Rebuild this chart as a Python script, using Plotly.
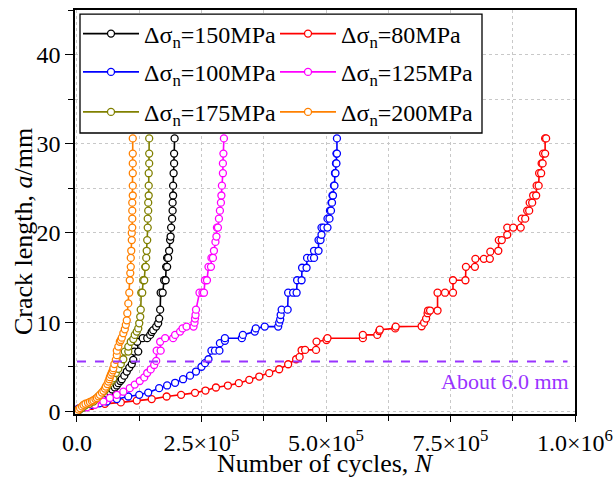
import numpy as np
import plotly.graph_objects as go

# ---- data (N in thousands of cycles, a in mm) ----
N_150 = [0, 5, 15, 26, 35, 43, 50, 56, 61, 66, 71, 76, 80, 83, 87, 90, 95, 100, 105, 110, 113, 115, 123, 121, 132, 141, 147, 150, 153, 159, 163, 165, 167, 168, 172, 175, 178, 179, 181, 181, 183, 185, 187, 188, 189, 191, 192, 192, 193, 193, 194, 195, 195, 196]
a_150 = [0, 0.2, 0.45, 0.8, 1.05, 1.3, 1.5, 1.73, 1.95, 2.2, 2.45, 2.67, 2.9, 3.16, 3.4, 3.6, 4.0, 4.46, 4.9, 5.3, 5.77, 6.7, 6.7, 7.8, 8.2, 8.2, 8.57, 8.9, 9.1, 9.5, 9.87, 10.4, 11.4, 13.3, 13.3, 14.7, 14.7, 16.2, 16.2, 17.2, 17.2, 18.0, 19.2, 19.6, 20.6, 21.6, 22.5, 23.4, 24.2, 25.3, 26.7, 27.8, 28.9, 30.6]

N_80 = [0, 3, 29, 56, 88, 120, 150, 180, 209, 237, 258, 279, 303, 325, 346, 366, 386, 406, 424, 440, 447, 451, 458, 480, 481, 501, 503, 574, 574, 603, 607, 608, 639, 640, 692, 697, 701, 704, 705, 709, 724, 724, 739, 755, 755, 780, 781, 799, 800, 817, 829, 830, 846, 847, 853, 864, 864, 876, 891, 893, 900, 904, 908, 909, 914, 916, 922, 923, 927, 928, 932, 933, 935, 936, 940, 940, 942]
a_80 = [0, 0.3, 0.6, 0.84, 1.0, 1.2, 1.37, 1.66, 1.85, 2.07, 2.33, 2.67, 2.89, 3.16, 3.53, 3.9, 4.28, 4.72, 5.28, 5.84, 6.1, 6.85, 6.89, 6.89, 7.82, 8.0, 8.2, 8.2, 8.57, 8.57, 9.0, 9.15, 9.3, 9.5, 9.54, 9.94, 10.4, 11.0, 11.3, 11.3, 11.3, 13.3, 13.3, 13.3, 14.7, 14.7, 16.2, 16.2, 17.1, 17.1, 17.1, 17.9, 18.0, 19.2, 19.2, 19.8, 20.6, 20.6, 20.6, 21.6, 21.6, 22.5, 22.5, 23.4, 23.4, 24.2, 24.2, 25.3, 25.3, 26.7, 26.7, 27.8, 27.8, 28.9, 28.9, 30.6, 30.6]

N_100 = [0, 3, 15, 29, 45, 60, 80, 103, 125, 143, 165, 181, 197, 213, 227, 239, 250, 257, 264, 270, 277, 286, 287, 297, 297, 331, 333, 357, 359, 377, 404, 406, 408, 409, 411, 423, 424, 434, 441, 442, 451, 452, 461, 462, 470, 476, 476, 485, 485, 489, 491, 491, 495, 503, 503, 507, 508, 510, 511, 512, 513, 514, 516, 517, 518, 519, 520, 521, 521, 522, 522]
a_100 = [0, 0.3, 0.5, 0.73, 0.9, 1.1, 1.37, 1.66, 1.85, 2.1, 2.6, 2.9, 3.2, 3.6, 4.0, 4.46, 5.0, 5.4, 5.84, 6.8, 6.8, 6.8, 7.64, 7.9, 8.2, 8.2, 8.57, 8.94, 9.3, 9.5, 9.5, 9.94, 10.3, 10.8, 11.4, 11.4, 13.3, 13.3, 13.3, 14.7, 14.7, 16.1, 16.1, 17.2, 17.2, 17.2, 18.0, 18.0, 19.2, 19.2, 19.8, 20.6, 20.6, 20.6, 21.6, 21.6, 22.5, 22.5, 23.4, 23.4, 24.2, 24.2, 25.3, 25.3, 26.7, 26.7, 27.8, 27.8, 28.9, 28.9, 30.6]

N_125 = [0, 5, 20, 36, 53, 66, 80, 93, 106, 116, 126, 135, 141, 148, 155, 159, 160, 168, 167, 177, 193, 197, 207, 212, 220, 234, 236, 237, 238, 239, 246, 252, 255, 257, 261, 264, 269, 270, 273, 275, 278, 280, 281, 283, 285, 287, 289, 290, 291, 293, 293, 294, 295]
a_125 = [0, 0.25, 0.45, 0.73, 1.1, 1.5, 1.85, 2.2, 2.6, 3.0, 3.4, 3.8, 4.3, 4.7, 5.2, 5.65, 6.8, 6.8, 7.8, 8.2, 8.2, 8.57, 8.94, 9.3, 9.5, 9.5, 9.94, 10.4, 10.8, 11.4, 13.3, 13.3, 13.3, 14.7, 14.7, 16.2, 16.2, 17.2, 17.2, 18.0, 19.0, 19.6, 20.6, 20.6, 21.6, 22.5, 23.4, 24.2, 25.3, 26.7, 27.8, 28.9, 30.6]

N_175 = [0, 5, 10, 16, 25, 33, 38, 43, 48, 53, 57, 60, 63, 66, 70, 73, 78, 83, 88, 93, 96, 103, 103, 108, 113, 116, 120, 123, 125, 127, 128, 129, 131, 133, 135, 137, 138, 139, 140, 141, 142, 142, 143, 143, 144, 144, 144, 145, 145, 145]
a_175 = [0, 0.2, 0.4, 0.65, 0.85, 1.1, 1.4, 1.66, 1.95, 2.2, 2.45, 2.7, 2.95, 3.16, 3.45, 3.7, 4.3, 4.76, 5.3, 5.84, 6.7, 6.7, 7.26, 7.8, 8.1, 8.57, 8.94, 9.3, 9.87, 10.6, 11.4, 13.3, 13.3, 14.7, 14.7, 16.2, 16.2, 17.2, 18.0, 19.2, 20.6, 21.6, 22.5, 23.4, 24.2, 25.3, 26.7, 27.8, 28.9, 30.6]

N_200 = [0, 3, 6, 10, 13, 17, 22, 26, 30, 33, 37, 40, 43, 46, 50, 53, 56, 58, 61, 63, 65, 66, 68, 70, 72, 73, 75, 78, 80, 80, 83, 86, 88, 90, 93, 96, 98, 100, 101, 103, 105, 106, 107, 108, 108, 109, 110, 110, 111, 111, 111, 111, 112, 112, 112, 112, 112, 112]
a_200 = [0, 0.2, 0.36, 0.55, 0.73, 0.85, 0.95, 1.05, 1.15, 1.25, 1.38, 1.5, 1.68, 1.85, 2.1, 2.3, 2.55, 2.78, 3.05, 3.34, 3.6, 3.83, 4.1, 4.35, 4.6, 4.84, 5.3, 5.77, 6.3, 6.8, 7.26, 7.8, 8.0, 8.26, 8.76, 9.2, 9.7, 10.2, 11.0, 12.1, 13.3, 14.7, 15.5, 16.2, 17.2, 18.0, 19.2, 20.0, 20.6, 21.6, 22.5, 23.4, 24.2, 25.3, 26.7, 27.8, 28.9, 30.6]

labels = ["Δσ<sub>n</sub>=150MPa", "Δσ<sub>n</sub>=80MPa", "Δσ<sub>n</sub>=100MPa",
          "Δσ<sub>n</sub>=125MPa", "Δσ<sub>n</sub>=175MPa", "Δσ<sub>n</sub>=200MPa"]
colors = ["#000000", "#FF0000", "#0000FF", "#FF00FF", "#808000", "#FF8000"]
legend_ids = ["legend", "legend", "legend2", "legend2", "legend3", "legend3"]
series = [(N_150, a_150), (N_80, a_80), (N_100, a_100), (N_125, a_125), (N_175, a_175), (N_200, a_200)]

x_tickvals = [0, 250000, 500000, 750000, 1000000]
x_ticktext = ["0.0", "2.5×10<sup>5</sup>", "5.0×10<sup>5</sup>", "7.5×10<sup>5</sup>", "1.0×10<sup>6</sup>"]
y_tickvals = [0, 10, 20, 30, 40]

threshold = 5.6
FONT = "Times New Roman, Liberation Serif, serif"

fig = go.Figure()
for (n, a), lab, c, lg in zip(series, labels, colors, legend_ids):
    fig.add_trace(go.Scatter(
        x=np.array(n) * 1000.0, y=a, mode="lines+markers", name=lab, legend=lg,
        line=dict(color=c, width=1.6),
        marker=dict(symbol="circle", size=7, color="white", line=dict(color=c, width=1.3)),
    ))

fig.add_shape(type="line", x0=0, x1=985000, y0=threshold, y1=threshold,
              xref="x", yref="y", line=dict(color="#9933FF", width=2, dash="dash"))
fig.add_annotation(x=991000, y=3.4, xref="x", yref="y", text="About 6.0 mm",
                   showarrow=False, xanchor="right", yanchor="middle",
                   font=dict(family=FONT, size=22, color="#9933FF"))

# axis titles (placed as in the reference)
fig.add_annotation(x=-0.102, y=0.4505, xref="paper", yref="paper",
                   text="Crack length, <i>a</i>/mm", textangle=-90, showarrow=False,
                   xanchor="center", yanchor="middle",
                   font=dict(family=FONT, size=26, color="black"))
fig.add_annotation(x=0.5, y=-0.162, xref="paper", yref="paper",
                   text="Number of cycles, <i>N</i>", showarrow=False,
                   xanchor="center", yanchor="bottom", borderpad=0,
                   font=dict(family=FONT, size=26, color="black"))

# legend frame
fig.add_shape(type="rect", xref="paper", yref="paper", x0=0.01, x1=0.814, y0=0.6955, y1=0.990,
              fillcolor="white", line=dict(color="black", width=1.3), layer="above")

grid = dict(showgrid=True, gridcolor="#C8C8C8", griddash="dot", gridwidth=1)
fig.update_xaxes(
    range=[-4000, 1000000], tickmode="array", tickvals=x_tickvals, ticktext=x_ticktext,
    ticks="outside", ticklen=6, tickwidth=1.3, tickcolor="black",
    showline=True, linecolor="black", linewidth=1.6, mirror=True, zeroline=False,
    minor=dict(tickmode="linear", tick0=0, dtick=125000, ticks="outside", ticklen=5,
               tickcolor="black", **grid),
    **grid, automargin=False,
    tickfont=dict(family=FONT, size=24, color="black"),
)
fig.update_yaxes(
    range=[-0.3, 45], tickmode="array", tickvals=y_tickvals,
    ticks="outside", ticklen=8, tickwidth=1.3, tickcolor="black",
    showline=True, linecolor="black", linewidth=1.6, mirror=True, zeroline=False,
    minor=dict(tickmode="linear", tick0=0, dtick=5, ticks="outside", ticklen=5,
               tickcolor="black", **grid),
    **grid, automargin=False,
    tickfont=dict(family=FONT, size=24, color="black"),
)

leg_common = dict(orientation="h", x=0.006, xanchor="left", yanchor="middle",
                  entrywidth=126, itemwidth=56, bgcolor="rgba(0,0,0,0)", borderwidth=0,
                  font=dict(family=FONT, size=24, color="black"))
fig.update_layout(
    width=614, height=477,
    margin=dict(l=75, r=39, t=10, b=63),
    plot_bgcolor="white", paper_bgcolor="white",
    showlegend=True,
    legend=dict(y=0.9406, **leg_common),
    legend2=dict(y=0.8458, **leg_common),
    legend3=dict(y=0.7468, **leg_common),
)

fig.write_html("out.html")
